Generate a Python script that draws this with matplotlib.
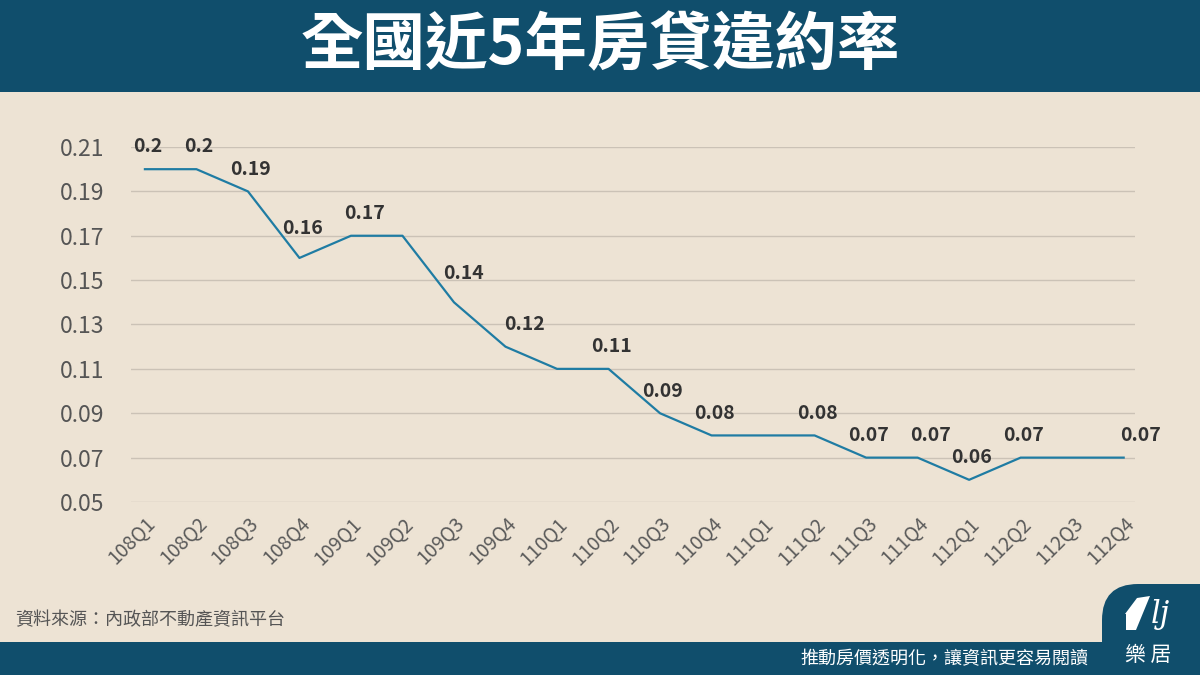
import matplotlib
matplotlib.use("Agg")
import matplotlib.pyplot as plt
from matplotlib.patches import FancyBboxPatch, Rectangle, Polygon

plt.rcParams["font.family"] = ["Noto Sans CJK TC", "DejaVu Sans"]

# data
quarters = ["108Q1", "108Q2", "108Q3", "108Q4", "109Q1", "109Q2", "109Q3", "109Q4",
            "110Q1", "110Q2", "110Q3", "110Q4", "111Q1", "111Q2", "111Q3", "111Q4",
            "112Q1", "112Q2", "112Q3", "112Q4"]
rates = [0.20, 0.20, 0.19, 0.16, 0.17, 0.17, 0.14, 0.12, 0.11, 0.11,
         0.09, 0.08, 0.08, 0.08, 0.07, 0.07, 0.06, 0.07, 0.07, 0.07]
labelled = [True, True, True, True, True, False, True, True, False, True,
            True, True, False, True, True, True, True, True, False, True]
yticks = [0.05, 0.07, 0.09, 0.11, 0.13, 0.15, 0.17, 0.19, 0.21]

title = "全國近5年房貸違約率"
source = "資料來源：內政部不動產資訊平台"
slogan = "推動房價透明化，讓資訊更容易閱讀"

BG = "#ede3d4"
NAVY = "#104e6c"
LINE = "#1f7ca3"
GRID = "#cbc2b6"

fig = plt.figure(figsize=(12, 6.75), dpi=100)
fig.patch.set_facecolor(BG)

# header / footer bands
fig.patches.append(Rectangle((0, 1 - 92 / 675), 1, 92 / 675, transform=fig.transFigure,
                             facecolor=NAVY, edgecolor="none", zorder=0))
fig.patches.append(Rectangle((0, 0), 1, 33 / 675, transform=fig.transFigure,
                             facecolor=NAVY, edgecolor="none", zorder=0))
fig.text(0.5, 1 - 46 / 675, title, color="white", fontsize=45, fontweight="bold",
         ha="center", va="center")

ax = fig.add_axes([131 / 1200, (675 - 502) / 675, (1135 - 131) / 1200, (502 - 147) / 675])
ax.set_facecolor(BG)
x = list(range(len(quarters)))
ax.plot(x, rates, color=LINE, lw=1.6, zorder=3)
ax.set_xlim(-0.27, 19.22)
ax.set_ylim(0.05, 0.21)
ax.set_yticks(yticks)
ax.set_yticklabels([f"{v:.2f}" for v in yticks])
ax.grid(axis="y", color=GRID, lw=1)
ax.set_axisbelow(True)
for s in ax.spines.values():
    s.set_visible(False)
ax.tick_params(axis="y", length=0, pad=19, labelsize=16.5, labelcolor="#555555")
ax.set_xticks(x)
ax.set_xticklabels(quarters, rotation=45, ha="right", va="top", rotation_mode="anchor",
                   fontsize=14, color="#5a5a5a")
ax.tick_params(axis="x", length=0, pad=8)

# small nudges where labels in the reference sit off the default spot
nudge = {3: (2, 5), 4: (10, 0), 6: (7, 5), 7: (14, 0), 15: (9, 0), 19: (12, 0)}
for i, (v, show) in enumerate(zip(rates, labelled)):
    if not show:
        continue
    dx, dy = nudge.get(i, (2, 0))
    ax.annotate(f"{v:g}", (i, v), xytext=(dx, 16 + dy), textcoords="offset points",
                ha="center", va="center", fontsize=14, fontweight="bold",
                color="#333333", zorder=4)

fig.text(15 / 1200, 1 - 620 / 675, source, fontsize=13, color="#555555",
         ha="left", va="center")
fig.text(1088 / 1200, 1 - 659 / 675, slogan, fontsize=13, color="white",
         ha="right", va="center")

# logo tab
fig.patches.append(FancyBboxPatch((1102 / 1200, -0.05), 0.2, (675 - 584) / 675 + 0.05,
                                  boxstyle="round,pad=0,rounding_size=0.03",
                                  transform=fig.transFigure, facecolor=NAVY,
                                  edgecolor="none", zorder=1, mutation_aspect=1.78))
fig.patches.append(Polygon([(1126 / 1200, 1 - 630 / 675), (1126 / 1200, 1 - 614 / 675),
                            (1125 / 1200, 1 - 614 / 675), (1137 / 1200, 1 - 598 / 675),
                            (1150 / 1200, 1 - 596 / 675), (1136 / 1200, 1 - 630 / 675)],
                           closed=True, transform=fig.transFigure, facecolor="white",
                           edgecolor="none", zorder=2))
fig.text(1160 / 1200, 1 - 614 / 675, "lj", fontsize=22, color="white", style="italic",
         ha="center", va="center", family="DejaVu Serif", zorder=3)
fig.text(1148 / 1200, 1 - 655 / 675, "樂 居", fontsize=15, color="white",
         ha="center", va="center", zorder=3)

fig.savefig("out.png", dpi=100, facecolor=BG)
